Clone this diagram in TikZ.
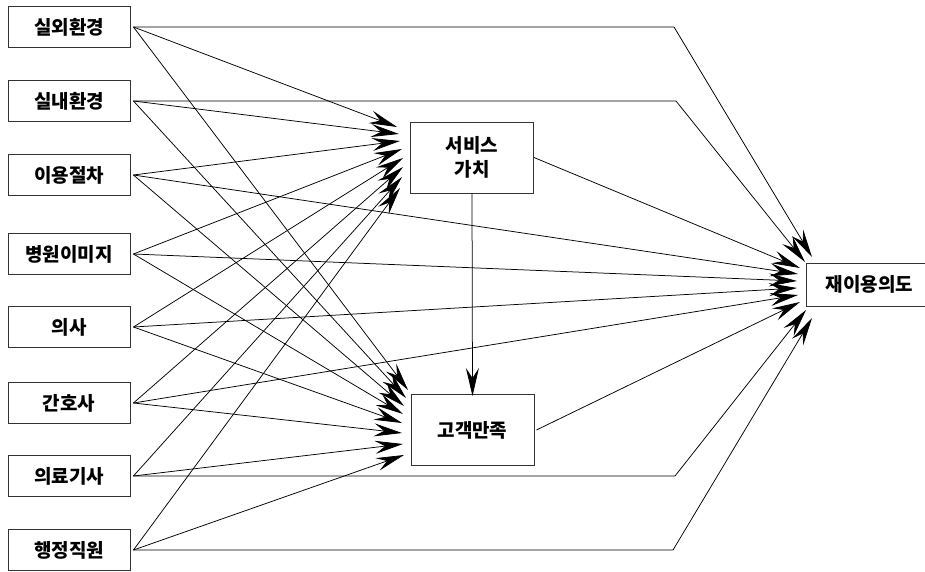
\documentclass[tikz,border=0pt]{standalone}
\usepackage{fontspec}
\setmainfont{Noto Sans CJK KR}
\usetikzlibrary{arrows.meta}

\begin{document}
\begin{tikzpicture}[x=1pt,y=-1pt,
  box/.style={draw=black!80, line width=0.9pt, fill=white, inner sep=0pt,
    font=\fontsize{19}{24}\selectfont\bfseries},
  src/.style={box, minimum width=122pt, minimum height=41pt},
  mid/.style={box, minimum width=123pt, minimum height=71pt, align=center},
  link/.style={line width=0.75pt, line join=round,
    -{Stealth[length=28pt,width=13pt,inset=10pt]}},
]
\useasboundingbox (0,0) rectangle (925,572);

% factor boxes on the left
\foreach \i/\t/\y in {1/실외환경/27, 2/실내환경/101, 3/이용절차/175,
    4/병원이미지/254, 5/의사/327, 6/간호사/403, 7/의료기사/476, 8/행정직원/550}
  \node[src] (s\i) at (69,\y) {\t};

% mediators and outcome (the outcome box runs past the right edge)
\node[mid] (sv) at (472,157.5) {서비스\\가치};
\node[mid] (cs) at (472.5,430) {고객만족};
\node[box, anchor=west, minimum width=126pt, minimum height=43pt] (ri) at (806,284.5) {재이용의도};

% arrow tips gathered in front of each target
\foreach \i/\x/\y in {1/397/127, 2/399/134, 3/400/141, 4/402/149,
    5/403/158, 6/403/167, 7/402/177, 8/400/188}
  \coordinate (v\i) at (\x,\y);
\foreach \i/\x/\y in {1/408/390, 2/406/398, 3/404/406, 4/403/414,
    5/402/423, 6/402/433, 7/403/444, 8/404/455}
  \coordinate (c\i) at (\x,\y);
\foreach \i/\x/\y in {1/812/257, 2/805/262, 3/800/268, 4/798/274, 5/797/281,
    6/797/288, 7/798/295, 8/800/302, 9/806/310, 10/812/318}
  \coordinate (r\i) at (\x,\y);

% bends of the long routed connectors
\coordinate (b1) at (674,27);
\coordinate (b2) at (676,101);
\coordinate (b7) at (675,476);
\coordinate (b8) at (673,550);

% every factor to service value and to satisfaction
\foreach \i in {1,...,8} {
  \draw[link] ([xshift=3pt]s\i.east) -- (v\i);
  \draw[link] ([xshift=3pt]s\i.east) -- (c\i);
}

% every factor to reuse intention
\draw[link] ([xshift=3pt]s1.east) -- (b1) -- (r1);
\draw[link] ([xshift=3pt]s2.east) -- (b2) -- (r2);
\draw[link] ([xshift=3pt]s3.east) -- (r4);
\draw[link] ([xshift=3pt]s4.east) -- (r5);
\draw[link] ([xshift=3pt]s5.east) -- (r6);
\draw[link] ([xshift=3pt]s6.east) -- (r7);
\draw[link] ([xshift=3pt]s7.east) -- (b7) -- (r9);
\draw[link] ([xshift=3pt]s8.east) -- (b8) -- (r10);

% mediator paths
\draw[link] (sv.south) -- ([yshift=-2pt]cs.north);
\draw[link] (sv.east) -- (r3);
\draw[link] ([xshift=2pt]cs.east) -- (r8);
\end{tikzpicture}
\end{document}
